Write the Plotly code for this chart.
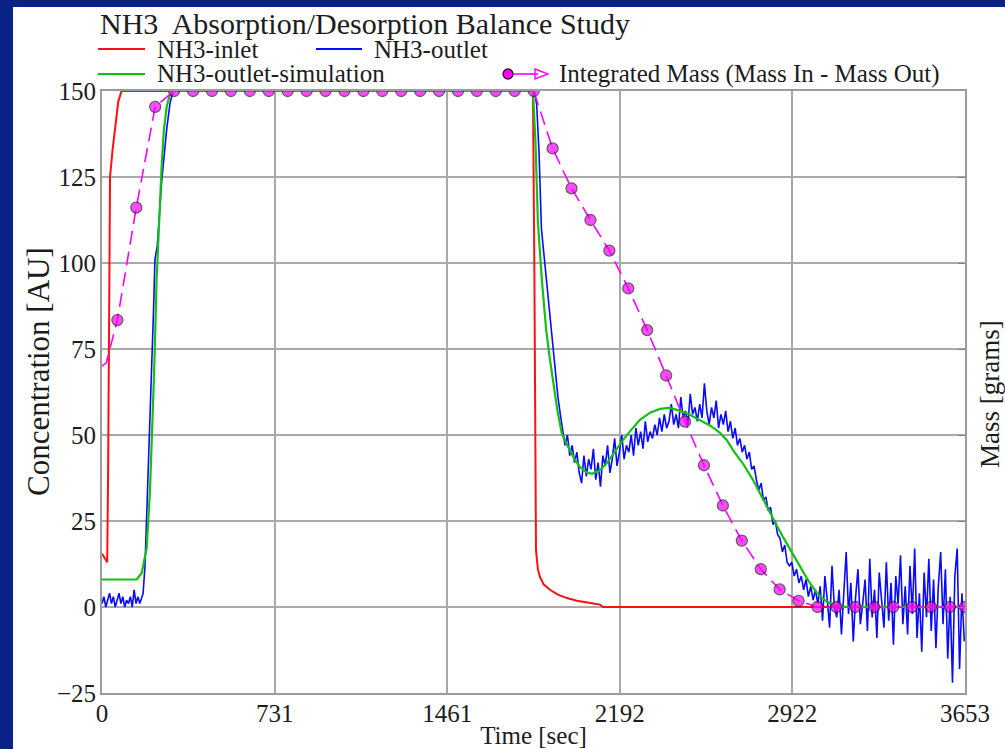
import plotly.graph_objects as go

# ---------------- data ----------------
x_ticks = [0, 731, 1461, 2192, 2922, 3653]
y_ticks = [-25, 0, 25, 50, 75, 100, 125, 150]

# NH3 inlet concentration [AU] vs time [sec]
inlet_t = [0, 22, 26, 30, 34, 45, 55, 69, 83, 1824, 1830, 1837, 1845, 1854,
           1870, 1896, 1930, 1968, 2010, 2053, 2080, 2108, 2121, 3653]
inlet_v = [15.5, 13, 40, 90, 125, 133, 139, 147, 150, 150, 100, 16.6, 11, 8.7,
           6.5, 5, 3.6, 2.6, 1.8, 1.2, 1.0, 0.7, 0, 0]

# NH3 outlet (measured): start-up segment
outlet_head_t = [0, 8, 16, 24, 32, 40, 48, 56, 64, 72, 80, 88, 96, 104, 112,
                 120, 128, 136, 144, 152, 160, 168, 174, 182, 190, 200, 208,
                 214, 218, 224, 234, 253, 267, 274, 288, 299, 305]
outlet_head_v = [1, 3, 0, 2, 4, 1, 3, 0, 2, 4, 1, 3, 0, 2, 1,
                 3, 0, 5, 1, 3, 1, 3, 4, 12, 28, 45, 60,
                 72, 86, 101, 105, 124, 134, 139, 146.5, 149.5, 150]
# NH3 outlet (measured): desorption segment, sampled every 10 s from 1830 s
outlet_tail_start = 1830
outlet_tail_step = 10
outlet_tail_v = [
    150, 146, 132, 110, 103, 96, 89, 82, 74, 68,
    61, 56, 51, 47, 50, 44, 47, 42, 45, 39,
    36, 44, 38, 43, 40, 46, 37, 42, 35, 44,
    41, 47, 39, 43, 49, 41, 45, 50, 43, 47,
    45, 50, 44, 52, 47, 51, 46, 54, 48, 51,
    49, 53, 50, 55, 51, 56, 52, 54, 59, 53,
    56, 52, 61, 55, 57, 53, 62, 56, 58, 54,
    59, 55, 65, 57, 53, 58, 55, 60, 52, 56,
    53, 57, 51, 54, 49, 52, 47, 49, 45, 47,
    43, 45, 40, 41, 37, 34, 36, 31, 32, 28,
    29, 24, 25, 21, 20, 16, 18, 13, 12, 13,
    9, 11, 7, 9, 5, 8, 3, 6, 2, 5,
    1, 6, -4, 9, 2, -6, 12, 0, -3, 5,
    -8, 4, 16, -2, 7, -10, 3, 11, -5, 1,
    8, -7, 14, -3, 5, -9, 10, 2, -6, 13,
    -4, 7, -11, 9, 1, 15, -5, 6, -8, 12,
    -2, 17, -9, 4, -13, 10, -3, 14, -7, 8,
    -12, 6, 16, -5, 11, -15, 3, -22, 9, 17,
    -18, 4, -10,
]

# NH3 outlet simulation
sim_t = [0, 147, 168, 189, 203, 214, 221, 231, 243, 253, 262, 274, 285, 295, 305,
         1824, 1835, 1845, 1862, 1880, 1896, 1910, 1928, 1946, 1965, 1981, 2000,
         2023, 2050, 2074, 2105, 2138, 2170, 2205, 2240, 2277, 2320, 2362, 2400,
         2434, 2480, 2531, 2575, 2616, 2645, 2671, 2715, 2756, 2785, 2815, 2850,
         2883, 2920, 2955, 2990, 3027, 3060, 3094, 3130, 3166, 3653]
sim_v = [8, 8, 9.9, 17, 33.7, 54.6, 69, 95, 114.5, 129, 138.7, 145.4, 148.5, 149.5, 150,
         150, 135, 112, 95, 80.6, 72, 65, 57, 50.5, 47.5, 45.6, 43,
         40.7, 39.2, 38.7, 39.6, 41.9, 45, 48.5, 51.5, 54.4, 56.5, 57.6, 57.9,
         57.3, 56.2, 54.4, 52.7, 50.6, 48.5, 45.6, 41.5, 36.9, 33, 29, 24.5,
         20.3, 15.8, 11.6, 7.6, 4, 2, 0.6, 0.1, 0, 0]

# Integrated mass (mass in - mass out), sampled every 80.1 s from 65 s
mass_start_level = 70
mass_first_t = 65
mass_step = 80.1
mass_v = [83.4, 116.1, 145.4,
          150, 150, 150, 150, 150, 150, 150, 150, 150, 150,
          150, 150, 150, 150, 150, 150, 150, 150, 150, 150,
          133.3, 121.7, 112.5, 103.6, 92.6, 80.5, 67.3, 53.9, 41.2, 29.5,
          19.3, 11.0, 5.1, 1.8,
          0, 0, 0, 0, 0, 0, 0, 0]
mass_end_t = 3653
mass_end_v = 0

# ---------------- assembly ----------------
outlet_t = outlet_head_t + [outlet_tail_start + outlet_tail_step * i
                            for i in range(len(outlet_tail_v))]
outlet_v = outlet_head_v + outlet_tail_v

mass_t = [0, 18] + [mass_first_t + mass_step * k for k in range(len(mass_v))] + [mass_end_t]
mass_y = [mass_start_level, mass_start_level + 1] + mass_v + [mass_end_v]
mass_sizes = [0, 0] + [11] * len(mass_v) + [11]

FONT = "Liberation Serif, Times New Roman, serif"
TXT = "#1c1c1c"
GRID = "#a9a9a9"
RED, BLUE, GREEN, MAGENTA = "#ff1010", "#0a0aff", "#14c014", "#ff00ff"

W_FIG, H_FIG = 1005, 749
L, R, T, B = 102, 40, 91, 56
PW, PH = W_FIG - L - R, H_FIG - T - B


def px(x):
    return (x - L) / PW


def py(y):
    return 1 - (y - T) / PH


fig = go.Figure()

fig.add_trace(go.Scatter(x=outlet_t, y=outlet_v, mode="lines", name="NH3-outlet",
                         line=dict(color=BLUE, width=1.6)))
fig.add_trace(go.Scatter(x=inlet_t, y=inlet_v, mode="lines", name="NH3-inlet",
                         line=dict(color=RED, width=2)))
fig.add_trace(go.Scatter(x=sim_t, y=sim_v, mode="lines", name="NH3-outlet-simulation",
                         line=dict(color=GREEN, width=2.2)))
fig.add_trace(go.Scatter(x=mass_t, y=mass_y, mode="lines+markers", yaxis="y2",
                         name="Integrated Mass (Mass In - Mass Out)",
                         line=dict(color=MAGENTA, width=1.6, dash="14px,7px"),
                         marker=dict(size=mass_sizes, color=MAGENTA,
                                     line=dict(color="#2a1a2a", width=1.3))))

axis_common = dict(showline=True, linecolor="#9c9c9c", linewidth=2, mirror=True,
                   showgrid=True, gridcolor=GRID, gridwidth=1.5, zeroline=False,
                   ticks="", tickfont=dict(family=FONT, size=25, color=TXT))

fig.update_layout(
    width=W_FIG, height=H_FIG,
    margin=dict(l=L, r=R, t=T, b=B, autoexpand=False),
    paper_bgcolor="#0a2286", plot_bgcolor="white",
    showlegend=False,
    font=dict(family=FONT, color=TXT),
    title=dict(text="NH3\u00a0 Absorption/Desorption Balance Study",
               font=dict(family=FONT, size=30, color=TXT),
               xref="container", x=100 / W_FIG, xanchor="left",
               yref="container", y=1 - 23 / H_FIG, yanchor="middle"),
    xaxis=dict(range=[0, 3653], tickvals=x_ticks, ticktext=[str(v) for v in x_ticks],
               ticklabelstandoff=-3,
               title=dict(text="Time [sec]", font=dict(family=FONT, size=25, color=TXT),
                          standoff=0),
               **axis_common),
    yaxis=dict(range=[-25, 150], tickvals=y_ticks, ticklabelstandoff=-1,
               **axis_common),
    yaxis2=dict(range=[-25, 150], overlaying="y", side="right", showticklabels=False,
                showgrid=False, zeroline=False, tickvals=y_ticks, ticks="inside",
                ticklen=7, tickcolor="#808080"),
)

# reference level of the mass balance
fig.add_shape(type="line", xref="paper", yref="y", layer="below",
              x0=0, x1=1, y0=mass_start_level, y1=mass_start_level,
              line=dict(color="#333333", width=1, dash="3px,3px"))

# white page panel inside the navy frame
fig.add_shape(type="rect", xref="paper", yref="paper", layer="below",
              x0=px(13), x1=px(1005), y0=py(749), y1=py(7),
              fillcolor="white", line=dict(width=0))

# vertical axis titles
fig.add_annotation(text="Concentration [AU]", xref="paper", yref="paper",
                   x=px(38), y=py(372), textangle=-90, showarrow=False,
                   xanchor="center", yanchor="middle",
                   font=dict(family=FONT, size=31, color=TXT))
fig.add_annotation(text="Mass [grams]", xref="paper", yref="paper",
                   x=px(990), y=py(394), textangle=-90, showarrow=False,
                   xanchor="center", yanchor="middle",
                   font=dict(family=FONT, size=27, color=TXT))

# legend block
legend_rows = [
    ("NH3-inlet", RED, 98, 145, 155, 49),
    ("NH3-outlet", BLUE, 316, 362, 372, 49),
    ("NH3-outlet-simulation", GREEN, 98, 145, 155, 74),
]
for label, color, x0, x1, xt, yy in legend_rows:
    fig.add_shape(type="line", xref="paper", yref="paper",
                  x0=px(x0), x1=px(x1), y0=py(yy), y1=py(yy),
                  line=dict(color=color, width=2.2))
    fig.add_annotation(text=label, xref="paper", yref="paper", x=px(xt), y=py(yy),
                       xanchor="left", yanchor="middle", showarrow=False,
                       font=dict(family=FONT, size=25, color=TXT))

my = 74
fig.add_shape(type="line", xref="paper", yref="paper",
              x0=px(512), x1=px(538), y0=py(my), y1=py(my),
              line=dict(color=MAGENTA, width=1.6))
fig.add_shape(type="path", xref="paper", yref="paper",
              path=f"M {px(535)} {py(my - 5)} L {px(548)} {py(my)} L {px(535)} {py(my + 5)} Z",
              line=dict(color=MAGENTA, width=1.4), fillcolor="rgba(0,0,0,0)")
fig.add_shape(type="circle", xref="paper", yref="paper",
              x0=px(503), x1=px(513), y0=py(my + 5), y1=py(my - 5),
              fillcolor=MAGENTA, line=dict(color="#2a1a2a", width=1.3))
fig.add_annotation(text="Integrated Mass (Mass In - Mass Out)", xref="paper", yref="paper",
                   x=px(557), y=py(my), xanchor="left", yanchor="middle", showarrow=False,
                   font=dict(family=FONT, size=25, color=TXT))

fig.write_html("out.html")
